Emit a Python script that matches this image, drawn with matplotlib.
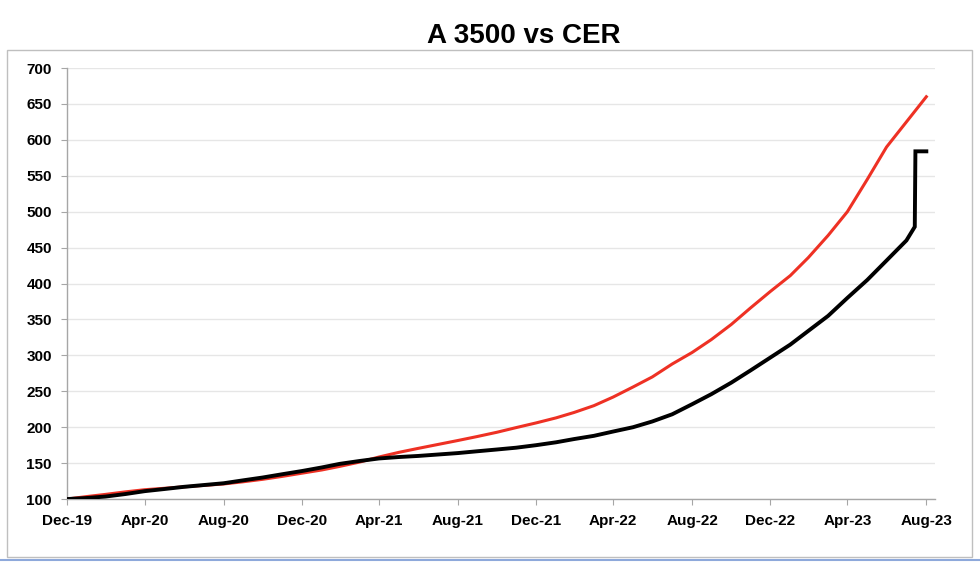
import matplotlib
matplotlib.use("Agg")
import matplotlib.pyplot as plt
import matplotlib.dates as mdates
import pandas as pd
from matplotlib.patches import Rectangle
from matplotlib.lines import Line2D

# ── datos (índice base Dic-19 = 100, fin de mes) ─────────────────────────
fechas = list(pd.date_range("2019-12-31", "2023-08-31", freq="ME"))

cer = [100, 103.5, 106.5, 110, 113, 115, 117, 119, 121, 124, 127.5, 131.5,
       136, 140.5, 145.5, 151.5, 158.5, 165, 170.5, 176, 181.5, 187, 193, 199.5,
       206, 213, 220.5, 230, 242, 256, 270, 288, 304, 322, 343, 366,
       389, 411, 436, 467, 500, 545, 590, 625, 660]

a3500 = [100, 101.5, 103.5, 107, 111, 114, 117, 119.5, 122, 126, 130, 134.5,
         139, 144, 149, 153, 156.5, 158.5, 160, 162, 164, 166.5, 169, 171.5,
         175, 179, 183.5, 188, 194, 200, 208, 218, 232, 246, 262, 279,
         297, 315, 334, 355, 380, 405, 432, 460]
# devaluación de agosto 2023
a3500_fechas = fechas[:-1] + [pd.Timestamp("2023-08-13"), pd.Timestamp("2023-08-14"),
                              pd.Timestamp("2023-08-31")]
a3500 = a3500 + [479, 584, 584]

xticks = list(pd.date_range("2019-12-31", "2023-08-31", freq="4ME"))
yticks = list(range(100, 701, 50))

# ── estilo ────────────────────────────────────────────────────────────────
FONT = ["Liberation Sans Narrow", "Liberation Sans", "DejaVu Sans"]
plt.rcParams["font.family"] = FONT

fig = plt.figure(figsize=(9.8, 5.62), dpi=100)
ax = fig.add_axes([0.0684, 0.112, 0.886, 0.767])

ax.plot(fechas, cer, color="#EE3124", linewidth=2.2, solid_joinstyle="round", zorder=3)
ax.plot(a3500_fechas, a3500, color="black", linewidth=2.8, solid_joinstyle="miter", zorder=4)

ax.set_ylim(100, 700)
ax.set_yticks(yticks)
ax.set_xlim(pd.Timestamp("2019-12-31"), pd.Timestamp("2023-09-14"))
ax.set_xticks(xticks)
ax.xaxis.set_major_formatter(mdates.DateFormatter("%b-%y"))

ax.grid(axis="y", color="#E6E6E6", linewidth=1)
ax.set_axisbelow(True)
for s in ["top", "right"]:
    ax.spines[s].set_visible(False)
for s in ["left", "bottom"]:
    ax.spines[s].set_color("#A6A6A6")
    ax.spines[s].set_linewidth(1)

ax.tick_params(axis="y", length=4, color="#A6A6A6", pad=7, labelsize=11)
ax.tick_params(axis="x", length=4, color="#A6A6A6", pad=7, labelsize=11)
for lab in ax.get_xticklabels() + ax.get_yticklabels():
    lab.set_fontweight("bold")

fig.text(0.534, 0.936, "A 3500 vs CER", ha="center", va="center",
         fontsize=20, fontweight="bold")

# marco exterior
fig.patches.append(Rectangle((0.0071, 0.0089), 0.985, 0.902, transform=fig.transFigure,
                             fill=False, edgecolor="#BFBFBF", linewidth=1))
fig.lines.append(Line2D([0, 1], [0.0036, 0.0036], transform=fig.transFigure,
                        color="#8EA9DB", linewidth=1.5))

fig.savefig("out.png", dpi=100)
